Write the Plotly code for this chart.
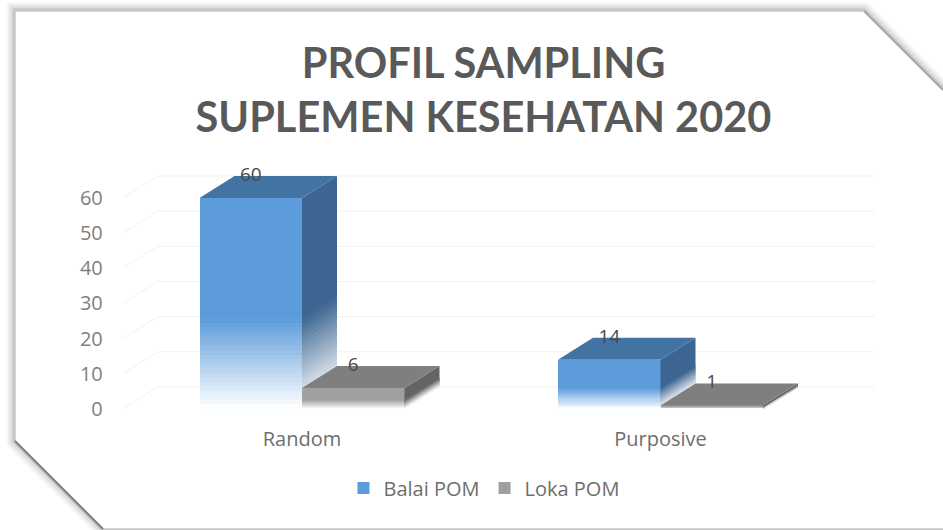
import plotly.graph_objects as go

# ---- data ----
categories = ["Random", "Purposive"]
balai_pom = [60, 14]
loka_pom = [6, 1]
y_ticks = [0, 10, 20, 30, 40, 50, 60]
title_lines = ["PROFIL SAMPLING", "SUPLEMEN KESEHATAN 2020"]
series_names = ["Balai POM", "Loka POM"]

# ---- geometry / style ----
W, H = 943, 530
PX_X0, PX_X1 = 122.75, 875.25      # plot box, pixels
PX_Y0, PX_Y1 = 409.0, 170.0
PX_PER_CAT = 358.5
PX_PER_UNIT = 3.517
X_RANGE = [-0.5, -0.5 + (PX_X1 - PX_X0) / PX_PER_CAT]
Y_RANGE = [0, (PX_Y0 - PX_Y1) / PX_PER_UNIT]
DX = 35.0 / PX_PER_CAT             # depth of 3-D bars, in axis units
DY = 22.0 / PX_PER_UNIT
BAR_W = 102.5 / PX_PER_CAT
FADE = 0.43                        # lower share of each bar that fades to white
STEPS = 20
EPS = 0.25
WHITE = (255, 255, 255)

BLUE = dict(front=(92, 156, 219), side=(60, 102, 145), top="#4273a3")
GREY = dict(front=(160, 160, 160), side=(100, 100, 100), top="#7f7f7f")


def mix(c, t):
    """t=1 -> colour c, t=0 -> white"""
    return "rgb(%d,%d,%d)" % tuple(round(w + (a - w) * t) for a, w in zip(c, WHITE))


def slices(v):
    """(upper, lower, strength) pieces of a bar of height v, from the top down."""
    split = v * FADE
    out = [(v, split, 1.0)]
    for i in range(STEPS):
        hi = split * (1 - i / STEPS)
        lo = split * (1 - (i + 1) / STEPS)
        out.append((hi, lo, 1 - (i + 0.5) / STEPS))
    return out


def bar_traces(values, offset, pal, name, xa, ya):
    centers = [i + offset for i in range(len(values))]
    xs, bases, heights, cols = [], [], [], []
    traces = []
    for c, v in zip(centers, values):
        for hi, lo, t in slices(v):
            low = max(lo - EPS, 0)
            xs.append(c)
            bases.append(low)
            heights.append(hi - low)
            cols.append(mix(pal["front"], t))
    traces.append(go.Bar(x=xs, y=heights, base=bases, width=BAR_W, name=name,
                         marker=dict(color=cols, line=dict(width=0)),
                         xaxis=xa, yaxis=ya, hoverinfo="skip", showlegend=True))
    for c, v in zip(centers, values):
        r = c + BAR_W / 2
        l = c - BAR_W / 2
        for hi, lo, t in slices(v):
            low = max(lo - EPS, 0)
            traces.append(go.Scatter(
                x=[r, r + DX, r + DX, r, r], y=[hi, hi + DY, low + DY, low, hi],
                mode="lines", line=dict(width=0), fill="toself",
                fillcolor=mix(pal["side"], t), xaxis=xa, yaxis=ya,
                hoverinfo="skip", showlegend=False))
        traces.append(go.Scatter(
            x=[l, r, r + DX, l + DX, l], y=[v, v, v + DY, v + DY, v],
            mode="lines", line=dict(width=0), fill="toself",
            fillcolor=pal["top"], xaxis=xa, yaxis=ya,
            hoverinfo="skip", showlegend=False))
    return traces


def frac_x(px):
    return px / W


def frac_y(py):
    return 1 - py / H


def path(pts, close=True):
    s = " ".join(("M" if i == 0 else "L") + f"{frac_x(x):.5f},{frac_y(y):.5f}"
                 for i, (x, y) in enumerate(pts))
    return s + (" Z" if close else "")


fig = go.Figure()

# wall and floor gridlines, at the back of the 3-D box
gx, gy = [], []
for t in y_ticks:
    gx += [X_RANGE[0], X_RANGE[0] + DX, X_RANGE[1], None]
    gy += [t, t + DY, t + DY, None]
fig.add_trace(go.Scatter(x=gx, y=gy, mode="lines", line=dict(color="#f1f1f1", width=1),
                         hoverinfo="skip", showlegend=False))

for tr in bar_traces(balai_pom, -BAR_W / 2, BLUE, series_names[0], "x2", "y2"):
    fig.add_trace(tr)
for tr in bar_traces(loka_pom, BAR_W / 2, GREY, series_names[1], "x3", "y3"):
    fig.add_trace(tr)

# data labels
lx, ly, lt = [], [], []
for offset, values in ((-BAR_W / 2, balai_pom), (BAR_W / 2, loka_pom)):
    for i, v in enumerate(values):
        lx.append(i + offset)
        ly.append(v + DY)
        lt.append(str(v))
fig.add_trace(go.Scatter(x=lx, y=ly, text=lt, mode="text", textposition="middle center",
                         textfont=dict(family="Open Sans", size=19, color="#4a4a4a"),
                         cliponaxis=False, xaxis="x3", yaxis="y3",
                         hoverinfo="skip", showlegend=False))

# card: soft shadow, white chamfered panel, edge lines
card = [(15, 11), (864, 11), (964, 111), (964, 529), (103, 529), (15, 441)]
shapes = []
for width, alpha in ((18, 0.03), (14, 0.04), (10, 0.05), (6, 0.07), (3, 0.09)):
    shapes.append(dict(type="path", xref="paper", yref="paper", layer="below",
                       path=path(card), fillcolor="rgba(0,0,0,0)",
                       line=dict(color=f"rgba(0,0,0,{alpha})", width=width)))
shapes.append(dict(type="path", xref="paper", yref="paper", layer="below",
                   path=path(card), fillcolor="#ffffff", line=dict(color="#c9c9c9", width=1.5)))
shapes.append(dict(type="path", xref="paper", yref="paper", layer="below",
                   path=path([(15, 441), (103, 529)], close=False),
                   line=dict(color="#808080", width=2)))
shapes.append(dict(type="path", xref="paper", yref="paper", layer="below",
                   path=path([(864, 11), (943, 90)], close=False),
                   line=dict(color="#a8a8a8", width=2)))

dom_x = [frac_x(PX_X0), frac_x(PX_X1)]
dom_y = [frac_y(PX_Y0), frac_y(PX_Y1)]
tick_font_y = dict(family="Open Sans", size=20, color="#7f7f7f")
tick_font_x = dict(family="Open Sans", size=20, color="#6e6e6e")

overlay = dict(matches="x", overlaying="x", visible=False, domain=dom_x)
overlay_y = dict(matches="y", overlaying="y", visible=False, domain=dom_y)

fig.update_layout(
    width=W, height=H, autosize=False,
    margin=dict(l=0, r=0, t=0, b=0, autoexpand=False),
    paper_bgcolor="#ffffff", plot_bgcolor="rgba(0,0,0,0)",
    barmode="overlay", bargap=0, hovermode=False,
    title=dict(text="<br>".join(title_lines), x=frac_x(483.5), xanchor="center",
               xref="container", y=frac_y(78), yanchor="middle", yref="container",
               font=dict(family="Lato", size=41.5, color="#595959", weight="bold")),
    xaxis=dict(domain=dom_x, range=X_RANGE, tickmode="array", tickvals=list(range(len(categories))),
               ticktext=categories, showgrid=False, zeroline=False, showline=False, ticks="",
               tickfont=tick_font_x, ticklabelstandoff=16, fixedrange=True),
    yaxis=dict(domain=dom_y, range=Y_RANGE, tickmode="array", tickvals=y_ticks,
               showgrid=False, zeroline=False, showline=False, ticks="",
               tickfont=tick_font_y, ticklabelstandoff=19, fixedrange=True),
    xaxis2=overlay, yaxis2=overlay_y,
    xaxis3=overlay, yaxis3=overlay_y,
    legend=dict(orientation="h", x=frac_x(484), xanchor="center", xref="container",
                y=frac_y(488), yanchor="middle", yref="container",
                font=dict(family="Open Sans", size=20, color="#6e6e6e"),
                bgcolor="rgba(0,0,0,0)", itemclick=False, itemdoubleclick=False),
    shapes=shapes,
    showlegend=True,
)

fig.write_html("out.html", config=dict(displayModeBar=False, responsive=False),
               default_width=W, default_height=H,
               post_script="document.body.style.margin='0';document.documentElement.style.overflow='hidden';")
